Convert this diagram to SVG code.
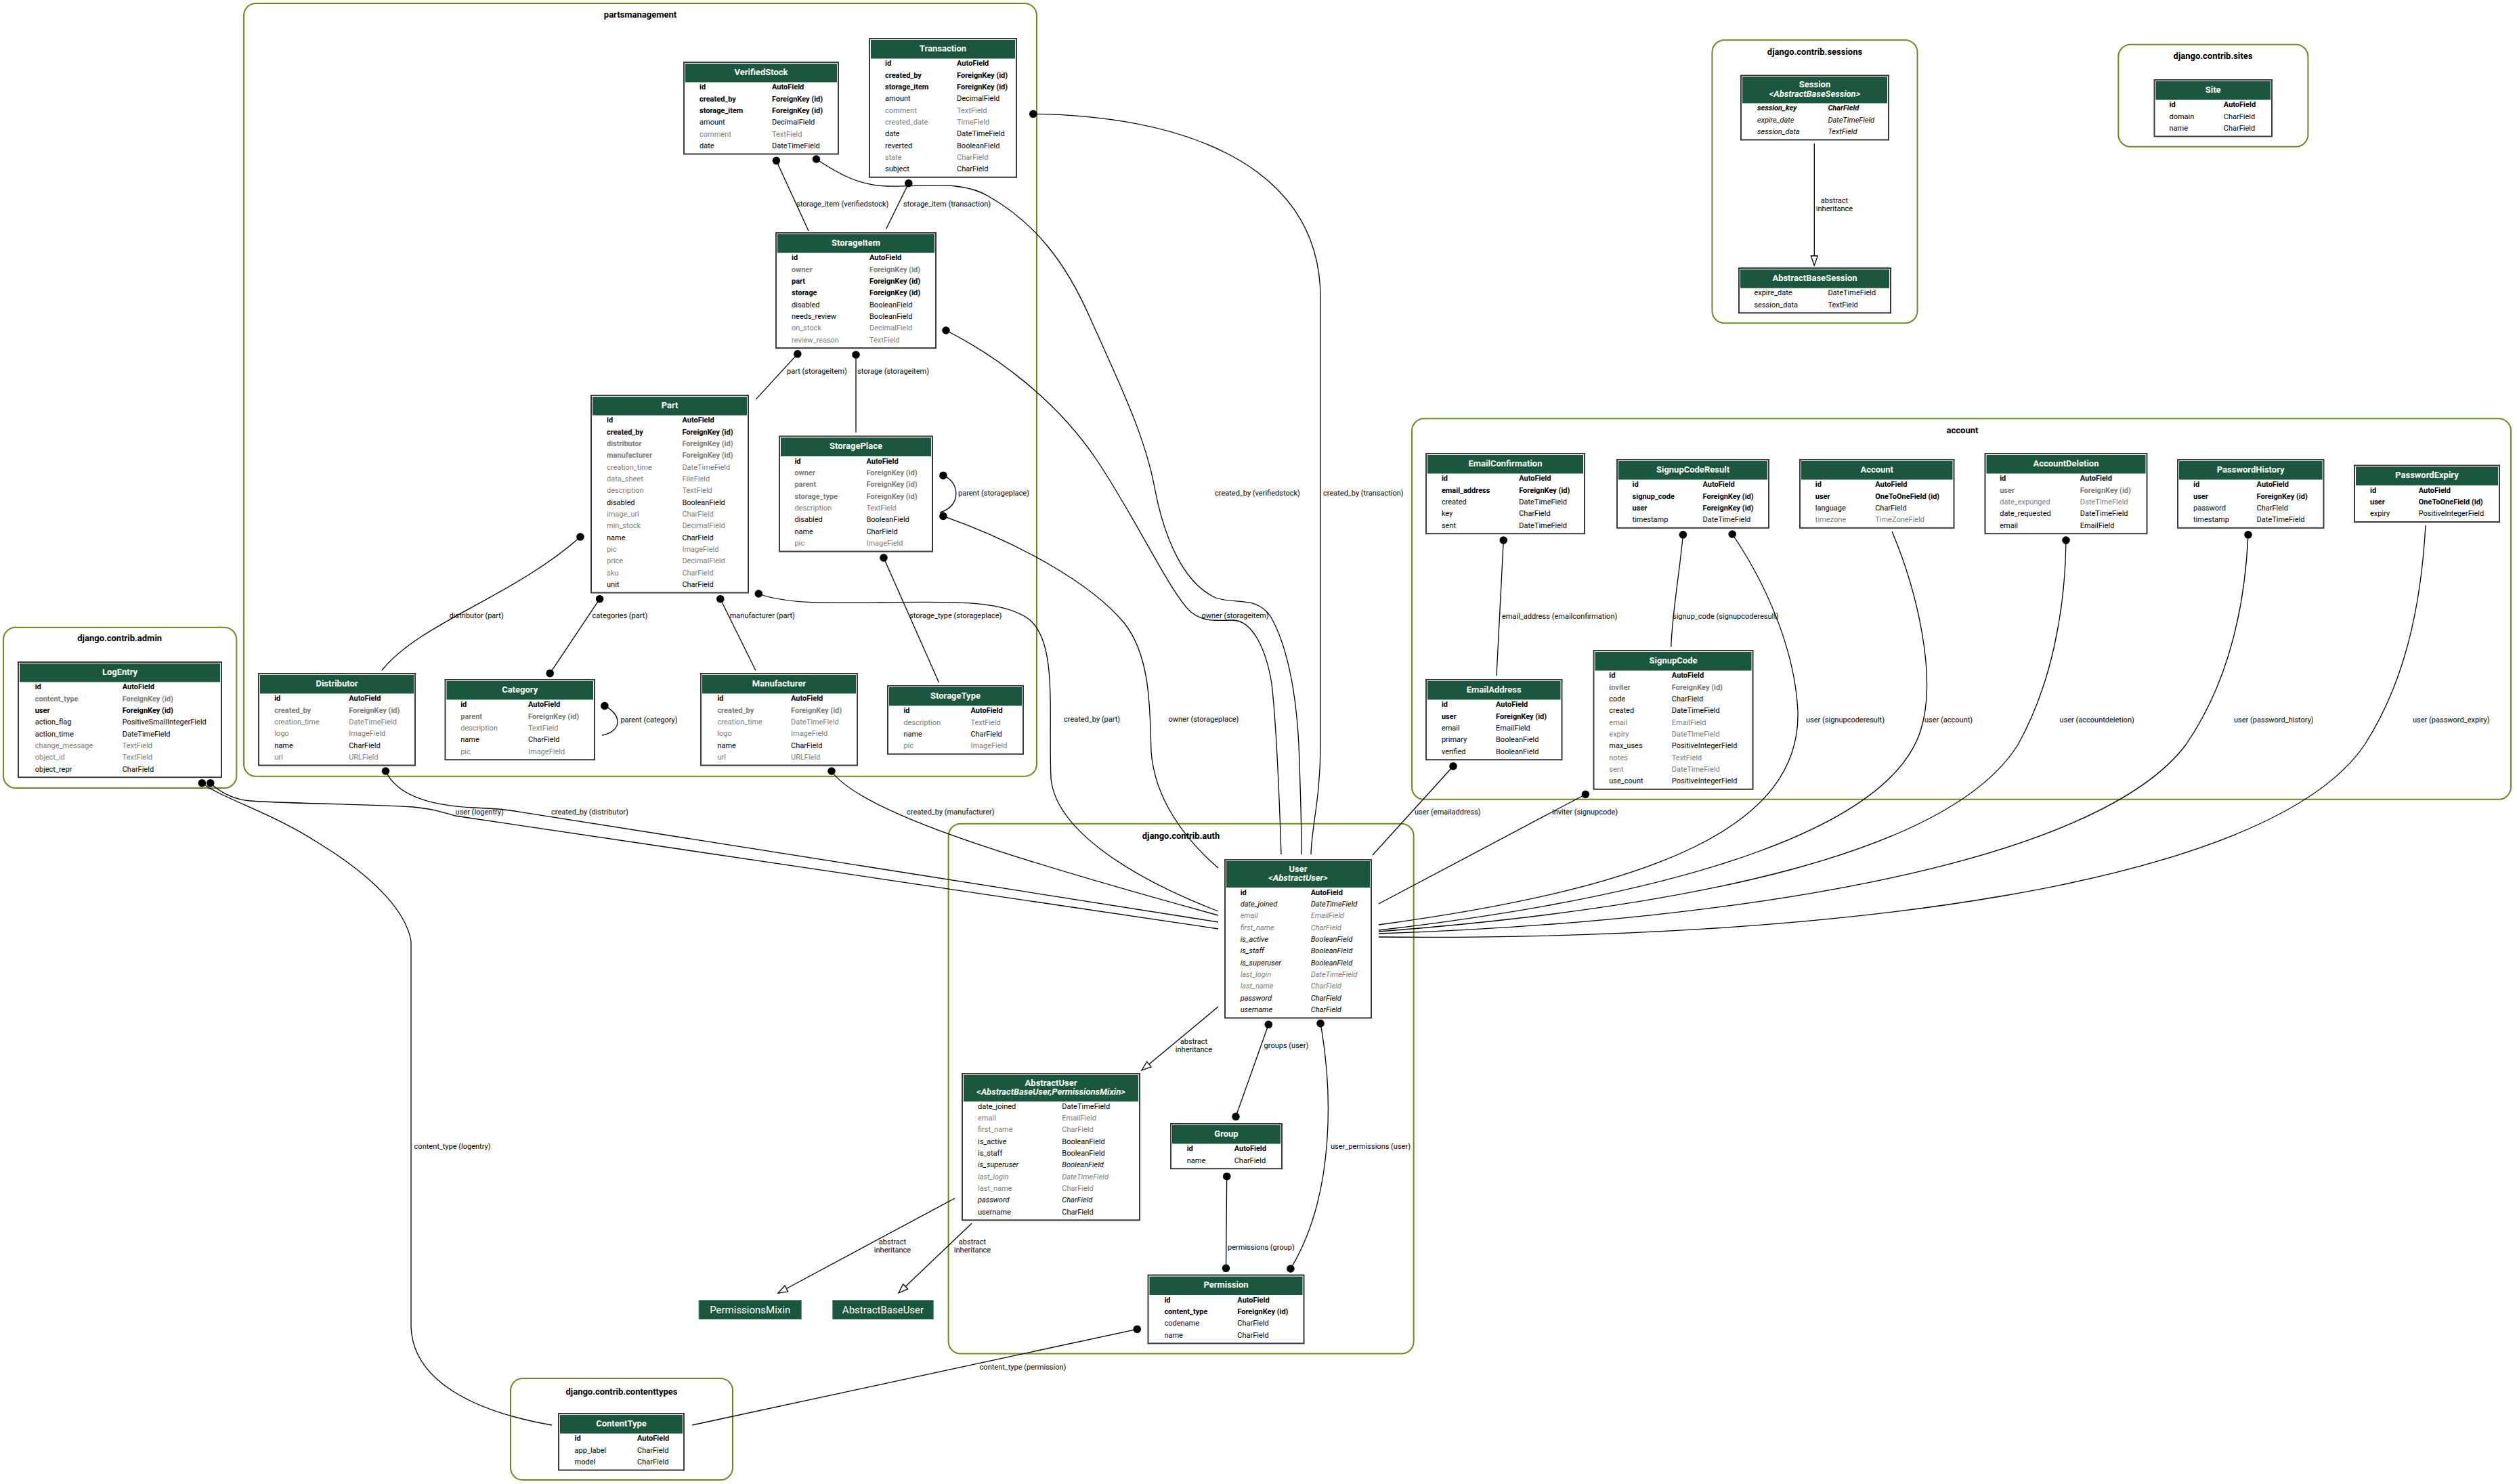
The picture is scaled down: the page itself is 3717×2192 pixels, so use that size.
<svg xmlns="http://www.w3.org/2000/svg" width="3717" height="2192" viewBox="0 0 3717 2192">
<defs>
<marker id="tri" viewBox="-16 -7 18 14" markerWidth="18" markerHeight="14" refX="0" refY="0" orient="auto" markerUnits="userSpaceOnUse">
<path d="M0,0 L-14,-5 L-14,5 Z" fill="#fff" stroke="#000" stroke-width="1.3"/>
</marker>
</defs>
<style>
text{font-family:Roboto,"Liberation Sans",Arial,sans-serif;font-size:11px;fill:#000}
.b{font-weight:bold}
.g{fill:#7b7b7b}
.i{font-style:italic}
.h{font-size:13px;font-weight:bold;fill:#fff;text-anchor:middle}
.hi{font-size:13px;font-weight:bold;font-style:italic;fill:#fff;text-anchor:middle}
.ct{font-size:13px;font-weight:bold;text-anchor:middle}
.cl{fill:#fff;stroke:#698b22;stroke-width:2}
.bx{fill:#fff;stroke:#3a3a3a;stroke-width:2}
.hd{fill:#1b563f}
.e{fill:none;stroke:#000;stroke-width:1.3}
.mc{text-anchor:middle}
.m{font-size:15px;fill:#fff;text-anchor:middle}
</style>
<rect width="3717" height="2192" fill="#fff"/>
<g id="clusters">
<rect class="cl" x="360" y="5" width="1171" height="1141.7" rx="18"/>
<text class="ct" x="945.5" y="26">partsmanagement</text>
<rect class="cl" x="2528.4" y="59.3" width="303.1" height="418" rx="18"/>
<text class="ct" x="2680" y="81">django.contrib.sessions</text>
<rect class="cl" x="3128.3" y="65.7" width="280.1" height="151" rx="18"/>
<text class="ct" x="3268" y="87">django.contrib.sites</text>
<rect class="cl" x="2085" y="618.3" width="1623" height="562.4" rx="18"/>
<text class="ct" x="2898" y="639.5">account</text>
<rect class="cl" x="5" y="926.7" width="344.3" height="237.3" rx="18"/>
<text class="ct" x="176.7" y="947">django.contrib.admin</text>
<rect class="cl" x="1400.6" y="1216.7" width="687.1" height="782.8" rx="18"/>
<text class="ct" x="1744" y="1238.5">django.contrib.auth</text>
<rect class="cl" x="754" y="2036" width="328" height="150" rx="18"/>
<text class="ct" x="918" y="2059.5">django.contrib.contenttypes</text>
</g>
<g id="connectors">
<path class="e" d="M1146.4,237.3 L1194,341"/>
<path class="e" d="M1341.8,270.7 L1308.7,338"/>
<path class="e" d="M1205.4,235 C1240,258 1270,274 1310,275 C1370,276 1420,266 1460,290 C1530,330 1575,390 1610,470 C1650,560 1690,640 1705,720 C1720,800 1750,862 1795,883 C1825,893 1855,880 1876,910 C1905,960 1915,1040 1918,1100 C1921,1180 1922,1230 1922,1262"/>
<path class="e" d="M1525.7,168.3 C1720,170 1950,230 1950,440 L1950,1100 C1950,1180 1937,1220 1936,1262"/>
<path class="e" d="M1397,488 C1470,525 1560,590 1620,680 C1680,770 1730,880 1760,905 C1780,920 1800,916 1820,916 C1850,916 1870,960 1878,1010 C1886,1080 1890,1200 1892,1262"/>
<path class="e" d="M1392.9,762.4 C1500,800 1610,860 1660,920 C1700,970 1698,1050 1700,1110 C1705,1180 1750,1240 1799,1282"/>
<path class="e" d="M1120.3,877 C1160,892 1220,891 1300,890 C1400,889 1480,885 1520,915 C1562,950 1548,1050 1552,1150 C1560,1230 1680,1300 1799,1346"/>
<path class="e" d="M1228,1139 C1270,1200 1500,1270 1799,1352"/>
<path class="e" d="M569.5,1139 C585,1172 630,1190 700,1193 C725,1194 742,1195 760,1198 L1799,1362"/>
<path class="e" d="M310.7,1156.7 C325,1170 345,1181 370,1183 C450,1188 560,1188 610,1192 C640,1195 655,1200 672,1205 L1799,1372"/>
<path class="e" d="M298.3,1156.7 C330,1180 400,1200 470,1245 C560,1300 600,1350 607,1390 L607,1960 C610,2040 700,2085 815,2105"/>
<path class="e" d="M857,793 C760,880 620,920 564,990"/>
<path class="e" d="M885.6,884.7 L812.2,994.6"/>
<path class="e" d="M1063.8,884.7 L1115.9,990.2"/>
<path class="e" d="M1305,823.9 L1386.5,1008"/>
<path class="e" d="M1392.9,702.4 C1418,712 1420,748 1388,757"/>
<path class="e" d="M892.9,1042.6 C918,1055 920,1080 889,1086"/>
<path class="e" d="M1177.8,522.9 L1116.5,589.6"/>
<path class="e" d="M1264,524 L1264,638.7"/>
<path class="e" d="M2220.3,798 L2210,998.3"/>
<path class="e" d="M2485.4,789.8 C2480,850 2470,900 2467.7,955.4"/>
<path class="e" d="M2558.2,789 C2600,850 2650,950 2655,1050 C2660,1220 2450,1310 2036,1366"/>
<path class="e" d="M2794,785 C2830,870 2862,1000 2836,1080 C2790,1220 2500,1320 2036,1374"/>
<path class="e" d="M3051,798 C3050,900 3030,1010 2980,1100 C2880,1260 2500,1340 2036,1376"/>
<path class="e" d="M3320,789.8 C3315,900 3290,1010 3228,1100 C3100,1270 2600,1360 2036,1379"/>
<path class="e" d="M3582,776 C3575,900 3550,1010 3492,1100 C3350,1310 2700,1390 2036,1384"/>
<path class="e" d="M2146,1131.7 L2027,1263"/>
<path class="e" d="M2341.4,1173.3 L2036,1335"/>
<path class="e" d="M1873.3,1513.3 L1825,1649.3"/>
<path class="e" d="M1950,1511.7 C1966,1600 1975,1760 1905.9,1874"/>
<path class="e" d="M1811.7,1737.7 L1810.5,1873.3"/>
<path class="e" d="M1679.3,1963.3 L1022.2,2105"/>
<path class="e" d="M2679.3,212 L2679.3,392" marker-end="url(#tri)"/>
<path class="e" d="M1799,1487 L1686,1581" marker-end="url(#tri)"/>
<path class="e" d="M1410,1770 L1149,1910" marker-end="url(#tri)"/>
<path class="e" d="M1435,1807 L1327,1910" marker-end="url(#tri)"/>
<g fill="#000">
<circle cx="1146.4" cy="237.3" r="5.8"/><circle cx="1205.4" cy="235" r="5.8"/><circle cx="1341.8" cy="270.7" r="5.8"/><circle cx="1525.7" cy="168.3" r="5.8"/>
<circle cx="1177.8" cy="522.9" r="5.8"/><circle cx="1264" cy="524" r="5.8"/><circle cx="1397" cy="488" r="5.8"/><circle cx="1392.9" cy="702.4" r="5.8"/>
<circle cx="1392.9" cy="762.4" r="5.8"/><circle cx="1305" cy="823.9" r="5.8"/><circle cx="857" cy="793" r="5.8"/><circle cx="885.6" cy="884.7" r="5.8"/>
<circle cx="812.2" cy="994.6" r="5.8"/><circle cx="1063.8" cy="884.7" r="5.8"/><circle cx="1120.3" cy="877" r="5.8"/><circle cx="892.9" cy="1042.6" r="5.8"/>
<circle cx="569.5" cy="1139" r="5.8"/><circle cx="1228" cy="1139" r="5.8"/><circle cx="298.3" cy="1156.7" r="5.8"/><circle cx="310.7" cy="1156.7" r="5.8"/>
<circle cx="2220.3" cy="798" r="5.8"/><circle cx="2485.4" cy="789.8" r="5.8"/><circle cx="2558.2" cy="789" r="5.8"/><circle cx="3051" cy="798" r="5.8"/>
<circle cx="3320" cy="789.8" r="5.8"/><circle cx="2146" cy="1131.7" r="5.8"/><circle cx="2341.4" cy="1173.3" r="5.8"/><circle cx="1873.3" cy="1513.3" r="5.8"/>
<circle cx="1950" cy="1511.7" r="5.8"/><circle cx="1825" cy="1649.3" r="5.8"/><circle cx="1811.7" cy="1737.7" r="5.8"/><circle cx="1810.5" cy="1873.3" r="5.8"/>
<circle cx="1905.9" cy="1874" r="5.8"/><circle cx="1679.3" cy="1963.3" r="5.8"/>
</g>
<text x="1176" y="305">storage_item (verifiedstock)</text>
<text x="1334" y="305">storage_item (transaction)</text>
<text x="1794" y="732">created_by (verifiedstock)</text>
<text x="1954" y="732">created_by (transaction)</text>
<text x="1415" y="732">parent (storageplace)</text>
<text x="1774.5" y="913">owner (storageitem)</text>
<text x="1162" y="551.5">part (storageitem)</text>
<text x="1266" y="551.5">storage (storageitem)</text>
<text x="663.4" y="913">distributor (part)</text>
<text x="874.6" y="913">categories (part)</text>
<text x="1077.7" y="913">manufacturer (part)</text>
<text x="1343" y="913">storage_type (storageplace)</text>
<text x="916.4" y="1067">parent (category)</text>
<text x="1571" y="1066">created_by (part)</text>
<text x="1725.5" y="1066">owner (storageplace)</text>
<text x="672.6" y="1203">user (logentry)</text>
<text x="814" y="1203">created_by (distributor)</text>
<text x="1339" y="1203">created_by (manufacturer)</text>
<text x="2089" y="1203">user (emailaddress)</text>
<text x="2292" y="1203">inviter (signupcode)</text>
<text x="2218" y="913.5">email_address (emailconfirmation)</text>
<text x="2470" y="913.5">signup_code (signupcoderesult)</text>
<text x="2667" y="1066.6">user (signupcoderesult)</text>
<text x="2842" y="1066.6">user (account)</text>
<text x="3041.5" y="1066.6">user (accountdeletion)</text>
<text x="3299" y="1066.6">user (password_history)</text>
<text x="3563" y="1066.6">user (password_expiry)</text>
<text x="611.6" y="1696.5">content_type (logentry)</text>
<text class="mc" x="1763" y="1541.7">abstract</text>
<text class="mc" x="1763" y="1553.7">inheritance</text>
<text x="1866.6" y="1548.3">groups (user)</text>
<text x="1965" y="1696.5">user_permissions (user)</text>
<text x="1813" y="1846">permissions (group)</text>
<text class="mc" x="1318" y="1838">abstract</text>
<text class="mc" x="1318" y="1850">inheritance</text>
<text class="mc" x="1436" y="1838">abstract</text>
<text class="mc" x="1436" y="1850">inheritance</text>
<text x="1446.6" y="2022.7">content_type (permission)</text>
<text class="mc" x="2709" y="299.7">abstract</text>
<text class="mc" x="2709" y="311.7">inheritance</text>
</g>
<g id="VerifiedStock">
<rect class="bx" x="1010" y="92" width="228" height="135.5"/><rect class="hd" x="1012" y="94" width="224" height="27.5"/>
<text class="h" x="1124" y="110.5">VerifiedStock</text>
<text class="b" x="1033" y="132.2">id</text><text class="b" x="1140" y="132.2">AutoField</text>
<text class="b" x="1033" y="149.5">created_by</text><text class="b" x="1140" y="149.5">ForeignKey (id)</text>
<text class="b" x="1033" y="166.9">storage_item</text><text class="b" x="1140" y="166.9">ForeignKey (id)</text>
<text x="1033" y="184.2">amount</text><text x="1140" y="184.2">DecimalField</text>
<text class="g" x="1033" y="201.5">comment</text><text class="g" x="1140" y="201.5">TextField</text>
<text x="1033" y="218.9">date</text><text x="1140" y="218.9">DateTimeField</text>
</g>
<g id="Transaction">
<rect class="bx" x="1284" y="57" width="217" height="204.8"/><rect class="hd" x="1286" y="59" width="213" height="27.5"/>
<text class="h" x="1392.5" y="75.5">Transaction</text>
<text class="b" x="1307" y="97.2">id</text><text class="b" x="1413" y="97.2">AutoField</text>
<text class="b" x="1307" y="114.5">created_by</text><text class="b" x="1413" y="114.5">ForeignKey (id)</text>
<text class="b" x="1307" y="131.9">storage_item</text><text class="b" x="1413" y="131.9">ForeignKey (id)</text>
<text x="1307" y="149.2">amount</text><text x="1413" y="149.2">DecimalField</text>
<text class="g" x="1307" y="166.5">comment</text><text class="g" x="1413" y="166.5">TextField</text>
<text class="g" x="1307" y="183.9">created_date</text><text class="g" x="1413" y="183.9">TimeField</text>
<text x="1307" y="201.2">date</text><text x="1413" y="201.2">DateTimeField</text>
<text x="1307" y="218.5">reverted</text><text x="1413" y="218.5">BooleanField</text>
<text class="g" x="1307" y="235.9">state</text><text class="g" x="1413" y="235.9">CharField</text>
<text x="1307" y="253.2">subject</text><text x="1413" y="253.2">CharField</text>
</g>
<g id="StorageItem">
<rect class="bx" x="1146" y="344" width="236" height="170.1"/><rect class="hd" x="1148" y="346" width="232" height="27.5"/>
<text class="h" x="1264" y="362.5">StorageItem</text>
<text class="b" x="1169" y="384.2">id</text><text class="b" x="1284" y="384.2">AutoField</text>
<text class="b g" x="1169" y="401.5">owner</text><text class="b g" x="1284" y="401.5">ForeignKey (id)</text>
<text class="b" x="1169" y="418.9">part</text><text class="b" x="1284" y="418.9">ForeignKey (id)</text>
<text class="b" x="1169" y="436.2">storage</text><text class="b" x="1284" y="436.2">ForeignKey (id)</text>
<text x="1169" y="453.5">disabled</text><text x="1284" y="453.5">BooleanField</text>
<text x="1169" y="470.9">needs_review</text><text x="1284" y="470.9">BooleanField</text>
<text class="g" x="1169" y="488.2">on_stock</text><text class="g" x="1284" y="488.2">DecimalField</text>
<text class="g" x="1169" y="505.5">review_reason</text><text class="g" x="1284" y="505.5">TextField</text>
</g>
<g id="Part">
<rect class="bx" x="873" y="584" width="232" height="291.5"/><rect class="hd" x="875" y="586" width="228" height="27.5"/>
<text class="h" x="989" y="602.5">Part</text>
<text class="b" x="896" y="624.2">id</text><text class="b" x="1007.4" y="624.2">AutoField</text>
<text class="b" x="896" y="641.5">created_by</text><text class="b" x="1007.4" y="641.5">ForeignKey (id)</text>
<text class="b g" x="896" y="658.9">distributor</text><text class="b g" x="1007.4" y="658.9">ForeignKey (id)</text>
<text class="b g" x="896" y="676.2">manufacturer</text><text class="b g" x="1007.4" y="676.2">ForeignKey (id)</text>
<text class="g" x="896" y="693.5">creation_time</text><text class="g" x="1007.4" y="693.5">DateTimeField</text>
<text class="g" x="896" y="710.9">data_sheet</text><text class="g" x="1007.4" y="710.9">FileField</text>
<text class="g" x="896" y="728.2">description</text><text class="g" x="1007.4" y="728.2">TextField</text>
<text x="896" y="745.5">disabled</text><text x="1007.4" y="745.5">BooleanField</text>
<text class="g" x="896" y="762.9">image_url</text><text class="g" x="1007.4" y="762.9">CharField</text>
<text class="g" x="896" y="780.2">min_stock</text><text class="g" x="1007.4" y="780.2">DecimalField</text>
<text x="896" y="797.5">name</text><text x="1007.4" y="797.5">CharField</text>
<text class="g" x="896" y="814.9">pic</text><text class="g" x="1007.4" y="814.9">ImageField</text>
<text class="g" x="896" y="832.2">price</text><text class="g" x="1007.4" y="832.2">DecimalField</text>
<text class="g" x="896" y="849.5">sku</text><text class="g" x="1007.4" y="849.5">CharField</text>
<text x="896" y="866.9">unit</text><text x="1007.4" y="866.9">CharField</text>
</g>
<g id="StoragePlace">
<rect class="bx" x="1151" y="644.5" width="226" height="170.1"/><rect class="hd" x="1153" y="646.5" width="222" height="27.5"/>
<text class="h" x="1264" y="663">StoragePlace</text>
<text class="b" x="1173.4" y="684.7">id</text><text class="b" x="1279.4" y="684.7">AutoField</text>
<text class="b g" x="1173.4" y="702">owner</text><text class="b g" x="1279.4" y="702">ForeignKey (id)</text>
<text class="b g" x="1173.4" y="719.4">parent</text><text class="b g" x="1279.4" y="719.4">ForeignKey (id)</text>
<text class="b g" x="1173.4" y="736.7">storage_type</text><text class="b g" x="1279.4" y="736.7">ForeignKey (id)</text>
<text class="g" x="1173.4" y="754">description</text><text class="g" x="1279.4" y="754">TextField</text>
<text x="1173.4" y="771.4">disabled</text><text x="1279.4" y="771.4">BooleanField</text>
<text x="1173.4" y="788.7">name</text><text x="1279.4" y="788.7">CharField</text>
<text class="g" x="1173.4" y="806">pic</text><text class="g" x="1279.4" y="806">ImageField</text>
</g>
<g id="Distributor">
<rect class="bx" x="382" y="995" width="231" height="135.5"/><rect class="hd" x="384" y="997" width="227" height="27.5"/>
<text class="h" x="497.5" y="1013.5">Distributor</text>
<text class="b" x="405.2" y="1035.2">id</text><text class="b" x="515.2" y="1035.2">AutoField</text>
<text class="b g" x="405.2" y="1052.5">created_by</text><text class="b g" x="515.2" y="1052.5">ForeignKey (id)</text>
<text class="g" x="405.2" y="1069.9">creation_time</text><text class="g" x="515.2" y="1069.9">DateTimeField</text>
<text class="g" x="405.2" y="1087.2">logo</text><text class="g" x="515.2" y="1087.2">ImageField</text>
<text x="405.2" y="1104.5">name</text><text x="515.2" y="1104.5">CharField</text>
<text class="g" x="405.2" y="1121.9">url</text><text class="g" x="515.2" y="1121.9">URLField</text>
</g>
<g id="Category">
<rect class="bx" x="657.5" y="1004" width="220.5" height="118.2"/><rect class="hd" x="659.5" y="1006" width="216.5" height="27.5"/>
<text class="h" x="767.7" y="1022.5">Category</text>
<text class="b" x="680.2" y="1044.2">id</text><text class="b" x="780" y="1044.2">AutoField</text>
<text class="b g" x="680.2" y="1061.5">parent</text><text class="b g" x="780" y="1061.5">ForeignKey (id)</text>
<text class="g" x="680.2" y="1078.9">description</text><text class="g" x="780" y="1078.9">TextField</text>
<text x="680.2" y="1096.2">name</text><text x="780" y="1096.2">CharField</text>
<text class="g" x="680.2" y="1113.5">pic</text><text class="g" x="780" y="1113.5">ImageField</text>
</g>
<g id="Manufacturer">
<rect class="bx" x="1035" y="995" width="231" height="135.5"/><rect class="hd" x="1037" y="997" width="227" height="27.5"/>
<text class="h" x="1150.5" y="1013.5">Manufacturer</text>
<text class="b" x="1059.4" y="1035.2">id</text><text class="b" x="1168" y="1035.2">AutoField</text>
<text class="b g" x="1059.4" y="1052.5">created_by</text><text class="b g" x="1168" y="1052.5">ForeignKey (id)</text>
<text class="g" x="1059.4" y="1069.9">creation_time</text><text class="g" x="1168" y="1069.9">DateTimeField</text>
<text class="g" x="1059.4" y="1087.2">logo</text><text class="g" x="1168" y="1087.2">ImageField</text>
<text x="1059.4" y="1104.5">name</text><text x="1168" y="1104.5">CharField</text>
<text class="g" x="1059.4" y="1121.9">url</text><text class="g" x="1168" y="1121.9">URLField</text>
</g>
<g id="StorageType">
<rect class="bx" x="1311" y="1013" width="200" height="100.8"/><rect class="hd" x="1313" y="1015" width="196" height="27.5"/>
<text class="h" x="1411" y="1031.5">StorageType</text>
<text class="b" x="1334.4" y="1053.2">id</text><text class="b" x="1433.4" y="1053.2">AutoField</text>
<text class="g" x="1334.4" y="1070.5">description</text><text class="g" x="1433.4" y="1070.5">TextField</text>
<text x="1334.4" y="1087.9">name</text><text x="1433.4" y="1087.9">CharField</text>
<text class="g" x="1334.4" y="1105.2">pic</text><text class="g" x="1433.4" y="1105.2">ImageField</text>
</g>
<g id="Session">
<rect class="bx" x="2571" y="111.5" width="218" height="95"/><rect class="hd" x="2573" y="113.5" width="214" height="39"/>
<text class="h" x="2680" y="129">Session</text>
<text class="hi" x="2680" y="142.5">&lt;AbstractBaseSession&gt;</text>
<text class="b i" x="2595" y="163.2">session_key</text><text class="b i" x="2699.4" y="163.2">CharField</text>
<text class="i" x="2595" y="180.5">expire_date</text><text class="i" x="2699.4" y="180.5">DateTimeField</text>
<text class="i" x="2595" y="197.9">session_data</text><text class="i" x="2699.4" y="197.9">TextField</text>
</g>
<g id="AbstractBaseSession">
<rect class="bx" x="2568" y="396" width="224" height="66.2"/><rect class="hd" x="2570" y="398" width="220" height="27.5"/>
<text class="h" x="2680" y="414.5">AbstractBaseSession</text>
<text x="2590.4" y="436.2">expire_date</text><text x="2699.4" y="436.2">DateTimeField</text>
<text x="2590.4" y="453.5">session_data</text><text x="2699.4" y="453.5">TextField</text>
</g>
<g id="Site">
<rect class="bx" x="3181.5" y="118" width="173.5" height="83.5"/><rect class="hd" x="3183.5" y="120" width="169.5" height="27.5"/>
<text class="h" x="3268.2" y="136.5">Site</text>
<text class="b" x="3203.5" y="158.2">id</text><text class="b" x="3283.8" y="158.2">AutoField</text>
<text x="3203.5" y="175.5">domain</text><text x="3283.8" y="175.5">CharField</text>
<text x="3203.5" y="192.9">name</text><text x="3283.8" y="192.9">CharField</text>
</g>
<g id="EmailConfirmation">
<rect class="bx" x="2106" y="670" width="234" height="118.2"/><rect class="hd" x="2108" y="672" width="230" height="27.5"/>
<text class="h" x="2223" y="688.5">EmailConfirmation</text>
<text class="b" x="2128.9" y="710.2">id</text><text class="b" x="2243.2" y="710.2">AutoField</text>
<text class="b" x="2128.9" y="727.5">email_address</text><text class="b" x="2243.2" y="727.5">ForeignKey (id)</text>
<text x="2128.9" y="744.9">created</text><text x="2243.2" y="744.9">DateTimeField</text>
<text x="2128.9" y="762.2">key</text><text x="2243.2" y="762.2">CharField</text>
<text x="2128.9" y="779.5">sent</text><text x="2243.2" y="779.5">DateTimeField</text>
</g>
<g id="SignupCodeResult">
<rect class="bx" x="2388" y="679" width="224" height="100.8"/><rect class="hd" x="2390" y="681" width="220" height="27.5"/>
<text class="h" x="2500" y="697.5">SignupCodeResult</text>
<text class="b" x="2410.6" y="719.2">id</text><text class="b" x="2514.5" y="719.2">AutoField</text>
<text class="b" x="2410.6" y="736.5">signup_code</text><text class="b" x="2514.5" y="736.5">ForeignKey (id)</text>
<text class="b" x="2410.6" y="753.9">user</text><text class="b" x="2514.5" y="753.9">ForeignKey (id)</text>
<text x="2410.6" y="771.2">timestamp</text><text x="2514.5" y="771.2">DateTimeField</text>
</g>
<g id="Account">
<rect class="bx" x="2658" y="679" width="227.5" height="100.8"/><rect class="hd" x="2660" y="681" width="223.5" height="27.5"/>
<text class="h" x="2771.7" y="697.5">Account</text>
<text class="b" x="2680.8" y="719.2">id</text><text class="b" x="2769.2" y="719.2">AutoField</text>
<text class="b" x="2680.8" y="736.5">user</text><text class="b" x="2769.2" y="736.5">OneToOneField (id)</text>
<text x="2680.8" y="753.9">language</text><text x="2769.2" y="753.9">CharField</text>
<text class="g" x="2680.8" y="771.2">timezone</text><text class="g" x="2769.2" y="771.2">TimeZoneField</text>
</g>
<g id="AccountDeletion">
<rect class="bx" x="2931.5" y="670" width="239" height="118.2"/><rect class="hd" x="2933.5" y="672" width="235" height="27.5"/>
<text class="h" x="3051" y="688.5">AccountDeletion</text>
<text class="b" x="2953.2" y="710.2">id</text><text class="b" x="3071.7" y="710.2">AutoField</text>
<text class="b g" x="2953.2" y="727.5">user</text><text class="b g" x="3071.7" y="727.5">ForeignKey (id)</text>
<text class="g" x="2953.2" y="744.9">date_expunged</text><text class="g" x="3071.7" y="744.9">DateTimeField</text>
<text x="2953.2" y="762.2">date_requested</text><text x="3071.7" y="762.2">DateTimeField</text>
<text x="2953.2" y="779.5">email</text><text x="3071.7" y="779.5">EmailField</text>
</g>
<g id="PasswordHistory">
<rect class="bx" x="3216" y="679" width="215.5" height="100.8"/><rect class="hd" x="3218" y="681" width="211.5" height="27.5"/>
<text class="h" x="3323.7" y="697.5">PasswordHistory</text>
<text class="b" x="3239" y="719.2">id</text><text class="b" x="3332.6" y="719.2">AutoField</text>
<text class="b" x="3239" y="736.5">user</text><text class="b" x="3332.6" y="736.5">ForeignKey (id)</text>
<text x="3239" y="753.9">password</text><text x="3332.6" y="753.9">CharField</text>
<text x="3239" y="771.2">timestamp</text><text x="3332.6" y="771.2">DateTimeField</text>
</g>
<g id="PasswordExpiry">
<rect class="bx" x="3477" y="687.5" width="214" height="83.5"/><rect class="hd" x="3479" y="689.5" width="210" height="27.5"/>
<text class="h" x="3584" y="706">PasswordExpiry</text>
<text class="b" x="3500" y="727.7">id</text><text class="b" x="3571.7" y="727.7">AutoField</text>
<text class="b" x="3500" y="745">user</text><text class="b" x="3571.7" y="745">OneToOneField (id)</text>
<text x="3500" y="762.4">expiry</text><text x="3571.7" y="762.4">PositiveIntegerField</text>
</g>
<g id="EmailAddress">
<rect class="bx" x="2106" y="1004" width="200.5" height="118.2"/><rect class="hd" x="2108" y="1006" width="196.5" height="27.5"/>
<text class="h" x="2206.2" y="1022.5">EmailAddress</text>
<text class="b" x="2128.9" y="1044.2">id</text><text class="b" x="2209" y="1044.2">AutoField</text>
<text class="b" x="2128.9" y="1061.5">user</text><text class="b" x="2209" y="1061.5">ForeignKey (id)</text>
<text x="2128.9" y="1078.9">email</text><text x="2209" y="1078.9">EmailField</text>
<text x="2128.9" y="1096.2">primary</text><text x="2209" y="1096.2">BooleanField</text>
<text x="2128.9" y="1113.5">verified</text><text x="2209" y="1113.5">BooleanField</text>
</g>
<g id="SignupCode">
<rect class="bx" x="2353.5" y="961" width="235" height="204.8"/><rect class="hd" x="2355.5" y="963" width="231" height="27.5"/>
<text class="h" x="2471" y="979.5">SignupCode</text>
<text class="b" x="2376.3" y="1001.2">id</text><text class="b" x="2468.8" y="1001.2">AutoField</text>
<text class="b g" x="2376.3" y="1018.5">inviter</text><text class="b g" x="2468.8" y="1018.5">ForeignKey (id)</text>
<text x="2376.3" y="1035.9">code</text><text x="2468.8" y="1035.9">CharField</text>
<text x="2376.3" y="1053.2">created</text><text x="2468.8" y="1053.2">DateTimeField</text>
<text class="g" x="2376.3" y="1070.5">email</text><text class="g" x="2468.8" y="1070.5">EmailField</text>
<text class="g" x="2376.3" y="1087.9">expiry</text><text class="g" x="2468.8" y="1087.9">DateTimeField</text>
<text x="2376.3" y="1105.2">max_uses</text><text x="2468.8" y="1105.2">PositiveIntegerField</text>
<text class="g" x="2376.3" y="1122.5">notes</text><text class="g" x="2468.8" y="1122.5">TextField</text>
<text class="g" x="2376.3" y="1139.9">sent</text><text class="g" x="2468.8" y="1139.9">DateTimeField</text>
<text x="2376.3" y="1157.2">use_count</text><text x="2468.8" y="1157.2">PositiveIntegerField</text>
</g>
<g id="LogEntry">
<rect class="bx" x="27" y="978" width="300" height="170.1"/><rect class="hd" x="29" y="980" width="296" height="27.5"/>
<text class="h" x="177" y="996.5">LogEntry</text>
<text class="b" x="51.7" y="1018.2">id</text><text class="b" x="180.7" y="1018.2">AutoField</text>
<text class="b g" x="51.7" y="1035.5">content_type</text><text class="b g" x="180.7" y="1035.5">ForeignKey (id)</text>
<text class="b" x="51.7" y="1052.9">user</text><text class="b" x="180.7" y="1052.9">ForeignKey (id)</text>
<text x="51.7" y="1070.2">action_flag</text><text x="180.7" y="1070.2">PositiveSmallIntegerField</text>
<text x="51.7" y="1087.5">action_time</text><text x="180.7" y="1087.5">DateTimeField</text>
<text class="g" x="51.7" y="1104.9">change_message</text><text class="g" x="180.7" y="1104.9">TextField</text>
<text class="g" x="51.7" y="1122.2">object_id</text><text class="g" x="180.7" y="1122.2">TextField</text>
<text x="51.7" y="1139.5">object_repr</text><text x="180.7" y="1139.5">CharField</text>
</g>
<g id="User">
<rect class="bx" x="1809" y="1270" width="216" height="233.6"/><rect class="hd" x="1811" y="1272" width="212" height="39"/>
<text class="h" x="1917" y="1287.5">User</text>
<text class="hi" x="1917" y="1301">&lt;AbstractUser&gt;</text>
<text class="b" x="1831.7" y="1321.7">id</text><text class="b" x="1935.7" y="1321.7">AutoField</text>
<text class="i" x="1831.7" y="1339">date_joined</text><text class="i" x="1935.7" y="1339">DateTimeField</text>
<text class="i g" x="1831.7" y="1356.4">email</text><text class="i g" x="1935.7" y="1356.4">EmailField</text>
<text class="i g" x="1831.7" y="1373.7">first_name</text><text class="i g" x="1935.7" y="1373.7">CharField</text>
<text class="i" x="1831.7" y="1391">is_active</text><text class="i" x="1935.7" y="1391">BooleanField</text>
<text class="i" x="1831.7" y="1408.4">is_staff</text><text class="i" x="1935.7" y="1408.4">BooleanField</text>
<text class="i" x="1831.7" y="1425.7">is_superuser</text><text class="i" x="1935.7" y="1425.7">BooleanField</text>
<text class="i g" x="1831.7" y="1443">last_login</text><text class="i g" x="1935.7" y="1443">DateTimeField</text>
<text class="i g" x="1831.7" y="1460.4">last_name</text><text class="i g" x="1935.7" y="1460.4">CharField</text>
<text class="i" x="1831.7" y="1477.7">password</text><text class="i" x="1935.7" y="1477.7">CharField</text>
<text class="i" x="1831.7" y="1495">username</text><text class="i" x="1935.7" y="1495">CharField</text>
</g>
<g id="AbstractUser">
<rect class="bx" x="1421" y="1586" width="262" height="216.3"/><rect class="hd" x="1423" y="1588" width="258" height="39"/>
<text class="h" x="1552" y="1603.5">AbstractUser</text>
<text class="hi" x="1552" y="1617">&lt;AbstractBaseUser,PermissionsMixin&gt;</text>
<text x="1444" y="1637.7">date_joined</text><text x="1568.3" y="1637.7">DateTimeField</text>
<text class="g" x="1444" y="1655">email</text><text class="g" x="1568.3" y="1655">EmailField</text>
<text class="g" x="1444" y="1672.4">first_name</text><text class="g" x="1568.3" y="1672.4">CharField</text>
<text x="1444" y="1689.7">is_active</text><text x="1568.3" y="1689.7">BooleanField</text>
<text x="1444" y="1707">is_staff</text><text x="1568.3" y="1707">BooleanField</text>
<text class="i" x="1444" y="1724.4">is_superuser</text><text class="i" x="1568.3" y="1724.4">BooleanField</text>
<text class="i g" x="1444" y="1741.7">last_login</text><text class="i g" x="1568.3" y="1741.7">DateTimeField</text>
<text class="g" x="1444" y="1759">last_name</text><text class="g" x="1568.3" y="1759">CharField</text>
<text class="i" x="1444" y="1776.4">password</text><text class="i" x="1568.3" y="1776.4">CharField</text>
<text x="1444" y="1793.7">username</text><text x="1568.3" y="1793.7">CharField</text>
</g>
<g id="Group">
<rect class="bx" x="1729" y="1660" width="164" height="66.2"/><rect class="hd" x="1731" y="1662" width="160" height="27.5"/>
<text class="h" x="1811" y="1678.5">Group</text>
<text class="b" x="1752.7" y="1700.2">id</text><text class="b" x="1822.7" y="1700.2">AutoField</text>
<text x="1752.7" y="1717.5">name</text><text x="1822.7" y="1717.5">CharField</text>
</g>
<g id="Permission">
<rect class="bx" x="1695.5" y="1883.5" width="230" height="100.8"/><rect class="hd" x="1697.5" y="1885.5" width="226" height="27.5"/>
<text class="h" x="1810.5" y="1902">Permission</text>
<text class="b" x="1719.4" y="1923.7">id</text><text class="b" x="1827.3" y="1923.7">AutoField</text>
<text class="b" x="1719.4" y="1941">content_type</text><text class="b" x="1827.3" y="1941">ForeignKey (id)</text>
<text x="1719.4" y="1958.4">codename</text><text x="1827.3" y="1958.4">CharField</text>
<text x="1719.4" y="1975.7">name</text><text x="1827.3" y="1975.7">CharField</text>
</g>
<g id="ContentType">
<rect class="bx" x="825" y="2088" width="185" height="83.5"/><rect class="hd" x="827" y="2090" width="181" height="27.5"/>
<text class="h" x="917.5" y="2106.5">ContentType</text>
<text class="b" x="848.6" y="2128.2">id</text><text class="b" x="941" y="2128.2">AutoField</text>
<text x="848.6" y="2145.5">app_label</text><text x="941" y="2145.5">CharField</text>
<text x="848.6" y="2162.9">model</text><text x="941" y="2162.9">CharField</text>
</g>
<g id="PermissionsMixin">
<rect x="1032" y="1920.5" width="151.5" height="28" fill="#1b563f" stroke="#6f9a84" stroke-width="1"/>
<text class="m" x="1107.7" y="1940">PermissionsMixin</text>
</g>
<g id="AbstractBaseUser">
<rect x="1229.5" y="1920.5" width="149" height="28" fill="#1b563f" stroke="#6f9a84" stroke-width="1"/>
<text class="m" x="1304" y="1940">AbstractBaseUser</text>
</g>
</svg>
